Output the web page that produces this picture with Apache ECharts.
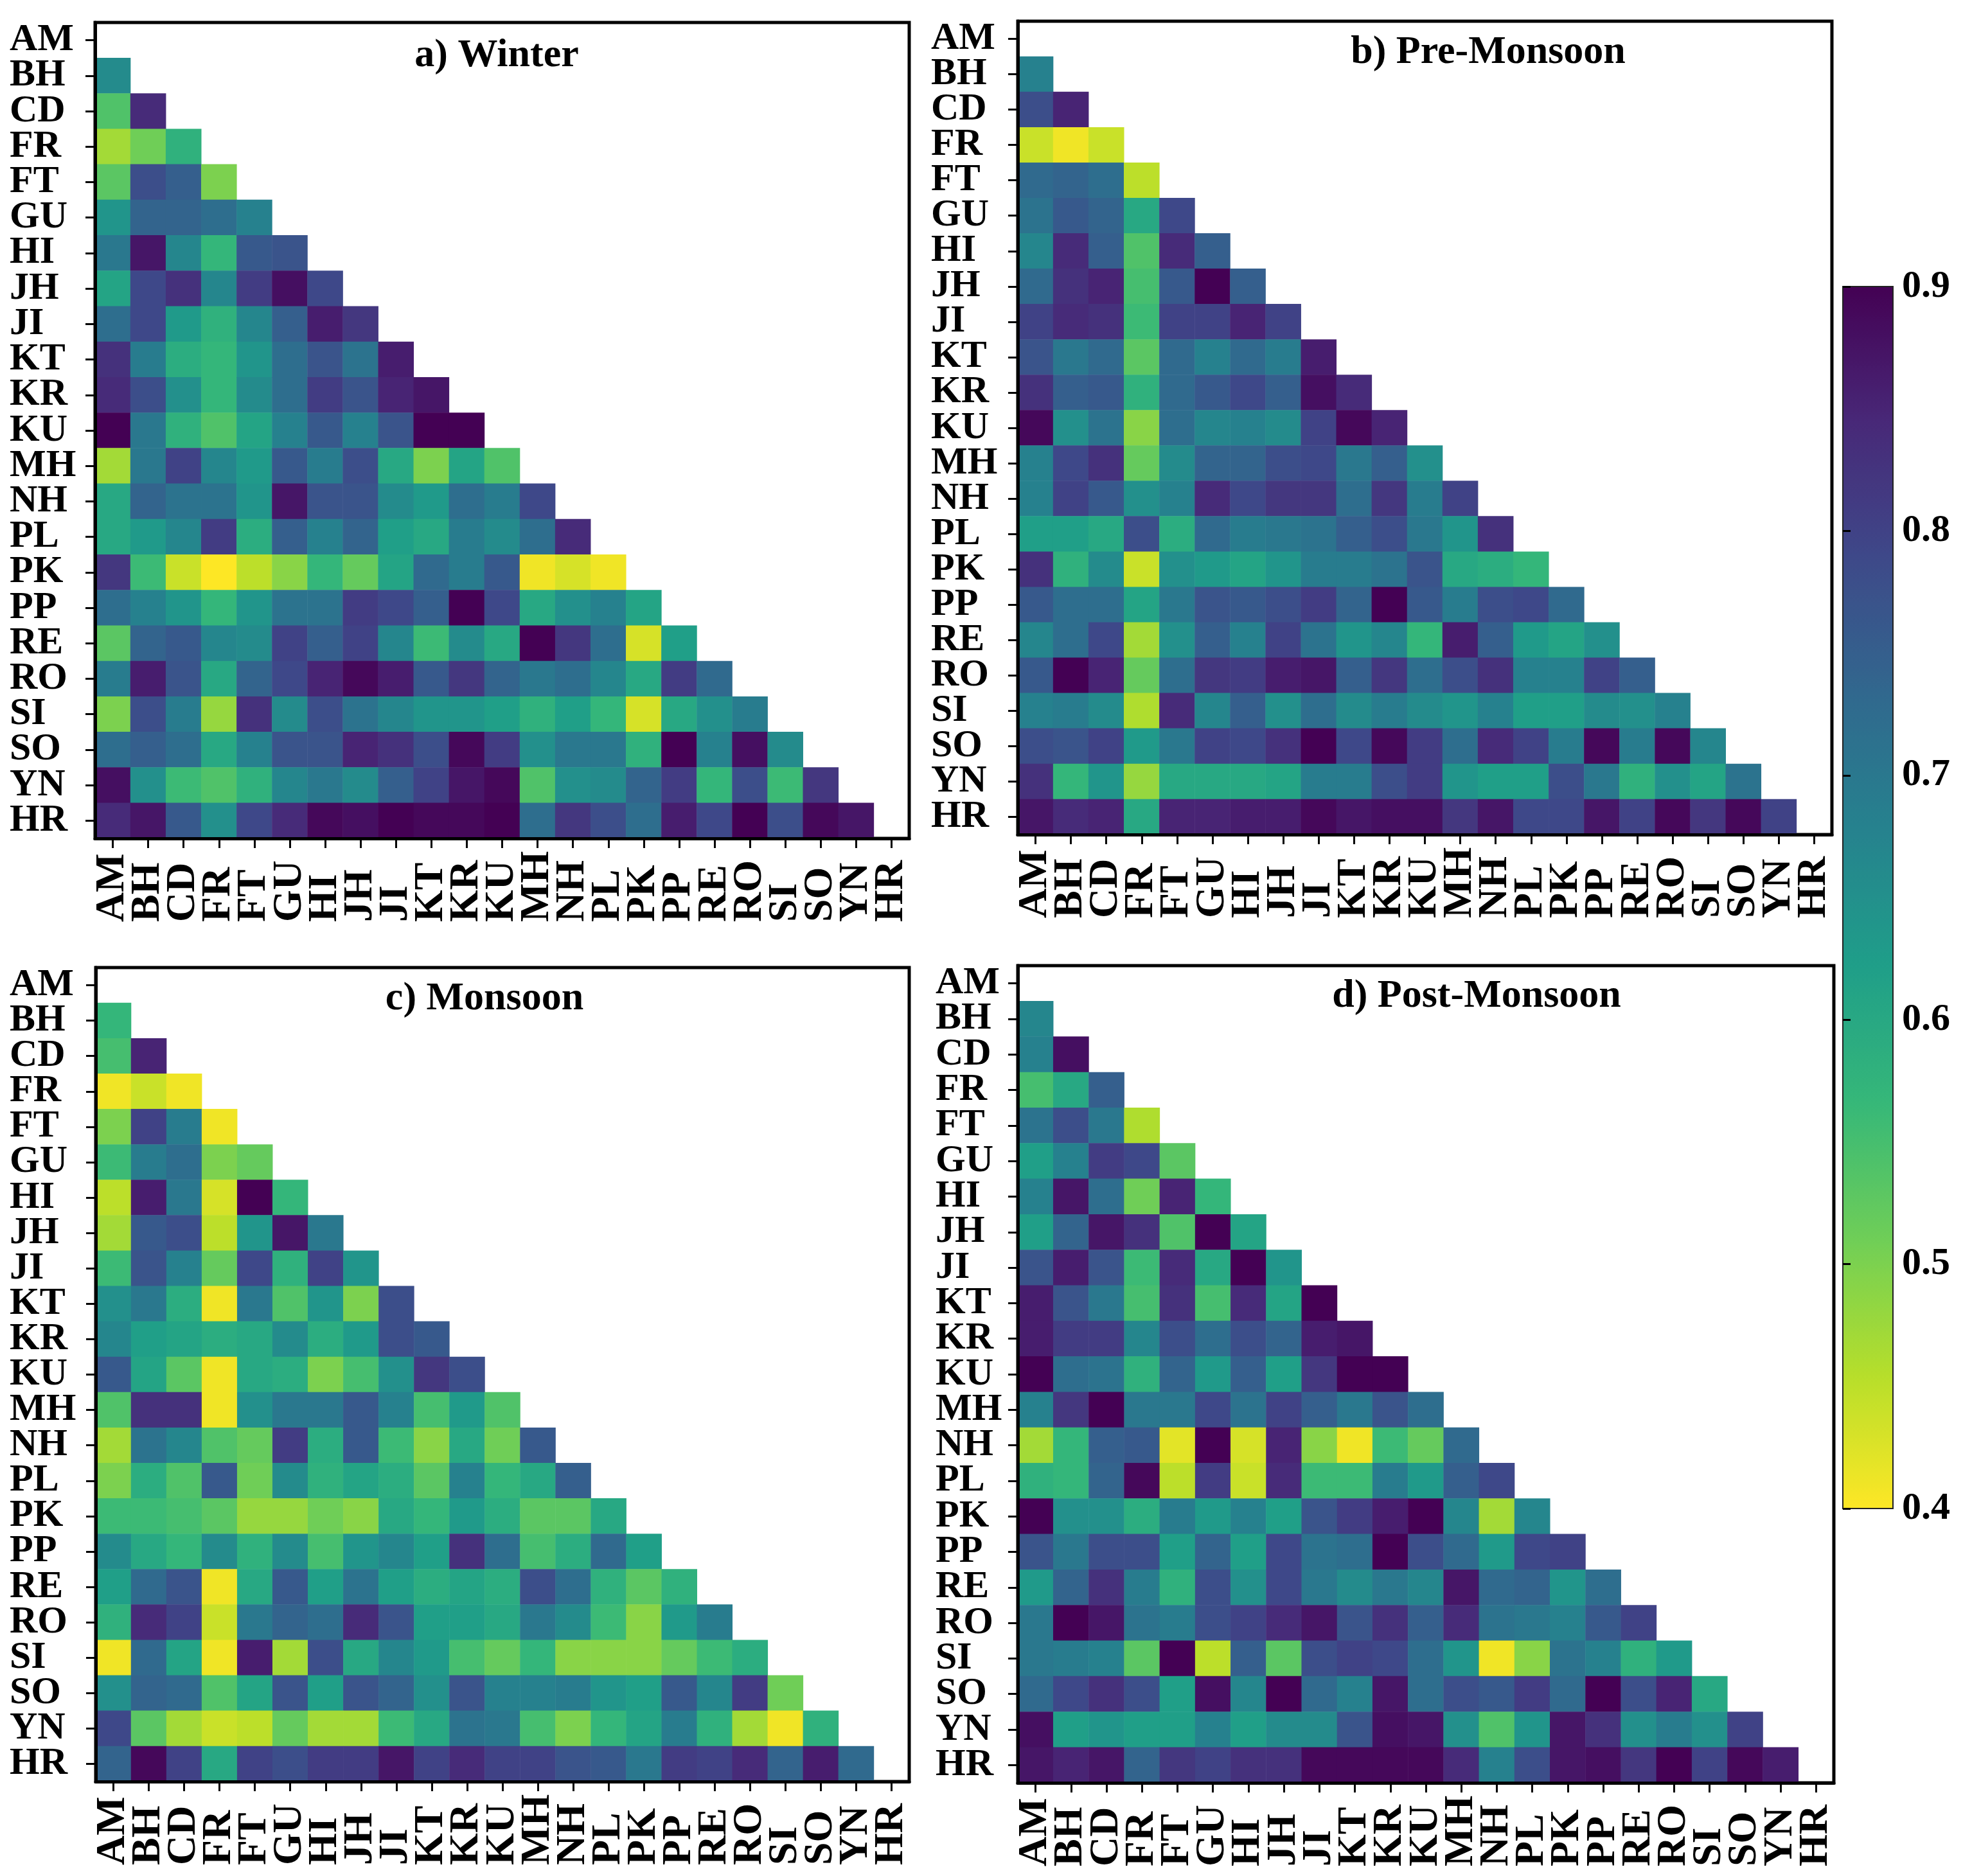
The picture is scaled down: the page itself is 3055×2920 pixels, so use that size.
<!DOCTYPE html>
<html>
<head>
<meta charset="utf-8">
<style>html,body{margin:0;padding:0;background:#fff}#chart{width:3055px;height:2920px}</style>
<script src="https://cdn.jsdelivr.net/npm/echarts@6/dist/echarts.min.js"></script>
</head>
<body>
<div id="chart"></div>
<script>
const stations = ['AM','BH','CD','FR','FT','GU','HI','JH','JI','KT','KR','KU','MH','NH','PL','PK','PP','RE','RO','SI','SO','YN','HR'];
const panelTitles = ['a) Winter','b) Pre-Monsoon','c) Monsoon','d) Post-Monsoon'];
const colorbarTicks = [0.4,0.5,0.6,0.7,0.8,0.9];
const viridisReversed = ['#fde725','#b5de2b','#6ece58','#35b779','#1f9e89','#26828e','#31688e','#3e4989','#482878','#440154'];

const winter = [
[.66],
[.54,.84],
[.47,.51,.58],
[.53,.78,.75,.50],
[.64,.74,.74,.72,.68],
[.70,.87,.67,.57,.76,.77],
[.61,.79,.83,.67,.81,.88,.79],
[.72,.79,.63,.58,.67,.75,.86,.82],
[.83,.69,.59,.57,.64,.72,.77,.71,.86],
[.84,.78,.65,.57,.66,.72,.81,.77,.85,.87],
[.90,.70,.58,.54,.61,.68,.76,.68,.77,.90,.90],
[.47,.70,.80,.67,.63,.76,.69,.78,.60,.50,.61,.54],
[.60,.74,.71,.71,.64,.87,.77,.77,.66,.63,.72,.69,.79],
[.60,.63,.67,.81,.59,.75,.68,.74,.62,.60,.69,.66,.72,.84],
[.82,.56,.44,.40,.45,.49,.57,.52,.61,.73,.69,.76,.41,.43,.41],
[.72,.68,.64,.57,.64,.71,.71,.81,.79,.75,.90,.79,.60,.65,.68,.61],
[.53,.74,.76,.67,.66,.80,.75,.80,.67,.56,.66,.60,.90,.82,.72,.43,.62],
[.69,.86,.77,.60,.74,.79,.85,.89,.86,.76,.82,.74,.70,.72,.67,.60,.81,.73],
[.50,.78,.69,.48,.83,.66,.78,.71,.67,.64,.64,.62,.58,.62,.57,.43,.60,.65,.69],
[.72,.75,.72,.60,.68,.77,.77,.85,.83,.78,.89,.81,.65,.70,.70,.58,.90,.68,.88,.66],
[.88,.65,.56,.54,.58,.67,.70,.66,.75,.80,.87,.89,.54,.65,.66,.74,.81,.57,.78,.56,.82],
[.84,.87,.76,.65,.79,.84,.89,.88,.90,.89,.89,.90,.72,.82,.78,.72,.86,.79,.90,.78,.89,.87]
];
const preMonsoon = [
[.68],
[.78,.85],
[.44,.41,.44],
[.73,.74,.72,.45],
[.71,.76,.74,.60,.79],
[.67,.84,.75,.54,.84,.75],
[.73,.83,.85,.55,.76,.90,.75],
[.80,.84,.83,.56,.80,.80,.85,.80],
[.77,.70,.73,.53,.73,.68,.73,.69,.86],
[.83,.75,.76,.58,.73,.76,.79,.75,.88,.84],
[.89,.65,.71,.49,.72,.67,.68,.66,.80,.89,.85],
[.68,.79,.83,.52,.66,.74,.74,.78,.79,.70,.75,.65],
[.68,.80,.76,.65,.68,.84,.79,.82,.82,.72,.82,.69,.80],
[.62,.62,.60,.78,.59,.73,.69,.70,.71,.75,.78,.70,.64,.83],
[.83,.58,.66,.44,.65,.63,.61,.64,.69,.69,.71,.77,.60,.59,.57],
[.76,.72,.72,.61,.70,.77,.76,.78,.81,.74,.90,.76,.69,.78,.79,.73],
[.67,.72,.79,.47,.65,.75,.68,.80,.71,.64,.67,.57,.86,.75,.63,.61,.65],
[.76,.90,.85,.52,.72,.82,.81,.86,.87,.75,.82,.72,.78,.83,.68,.68,.80,.75],
[.68,.69,.66,.46,.84,.67,.75,.65,.72,.66,.69,.66,.64,.68,.62,.62,.66,.65,.68],
[.78,.77,.80,.63,.70,.80,.79,.83,.90,.79,.89,.81,.72,.84,.80,.69,.89,.69,.89,.67],
[.83,.57,.64,.48,.60,.60,.60,.61,.69,.69,.78,.81,.64,.62,.62,.78,.70,.58,.65,.61,.71],
[.87,.84,.85,.60,.85,.85,.86,.86,.89,.87,.88,.88,.82,.87,.79,.79,.87,.80,.89,.82,.89,.80]
];
const monsoon = [
[.57],
[.55,.85],
[.41,.44,.41],
[.50,.80,.69,.41],
[.56,.69,.72,.50,.52],
[.45,.86,.70,.43,.90,.57],
[.47,.76,.78,.45,.64,.87,.70],
[.56,.77,.68,.52,.79,.58,.80,.64],
[.65,.70,.59,.41,.70,.54,.64,.50,.78],
[.67,.62,.61,.59,.60,.66,.59,.63,.78,.76],
[.76,.61,.53,.41,.60,.59,.50,.55,.65,.82,.78],
[.54,.83,.83,.41,.65,.70,.70,.76,.68,.55,.63,.54],
[.47,.71,.67,.54,.52,.81,.59,.76,.56,.49,.60,.51,.76],
[.50,.59,.54,.76,.51,.66,.58,.61,.59,.53,.68,.57,.60,.75],
[.56,.56,.55,.53,.48,.48,.51,.49,.60,.57,.63,.59,.53,.53,.60],
[.66,.60,.57,.66,.58,.66,.55,.64,.67,.62,.83,.72,.55,.59,.73,.62],
[.62,.73,.77,.41,.60,.76,.62,.71,.62,.59,.61,.59,.78,.72,.58,.53,.58],
[.58,.84,.80,.44,.70,.74,.72,.84,.77,.62,.62,.60,.70,.66,.56,.49,.63,.69],
[.41,.73,.61,.41,.86,.47,.78,.60,.67,.63,.55,.52,.57,.49,.49,.49,.52,.56,.59],
[.65,.74,.73,.54,.61,.77,.62,.77,.74,.65,.77,.68,.68,.69,.64,.62,.76,.67,.81,.51],
[.79,.53,.47,.44,.45,.52,.47,.47,.56,.60,.71,.70,.55,.50,.57,.61,.69,.58,.47,.41,.58],
[.74,.89,.80,.60,.80,.78,.81,.81,.87,.80,.84,.80,.80,.77,.76,.70,.81,.80,.84,.74,.86,.73]
];
const postMonsoon = [
[.67],
[.68,.88],
[.55,.60,.75],
[.71,.78,.70,.46],
[.62,.68,.81,.79,.53],
[.68,.87,.72,.51,.85,.57],
[.62,.74,.87,.83,.54,.90,.61],
[.77,.86,.77,.56,.84,.60,.90,.64],
[.86,.77,.70,.55,.83,.55,.84,.61,.90],
[.86,.81,.81,.67,.78,.72,.78,.74,.86,.87],
[.90,.72,.71,.58,.74,.63,.75,.62,.82,.90,.90],
[.68,.82,.90,.70,.70,.79,.71,.80,.75,.70,.77,.72],
[.47,.57,.75,.76,.42,.90,.43,.85,.49,.41,.56,.52,.73],
[.58,.57,.74,.89,.45,.81,.44,.84,.56,.56,.69,.63,.75,.79],
[.90,.65,.65,.59,.69,.63,.68,.62,.77,.81,.86,.90,.67,.47,.67],
[.77,.70,.78,.78,.62,.74,.62,.79,.71,.72,.90,.78,.73,.63,.79,.80],
[.63,.74,.83,.69,.58,.78,.65,.79,.70,.66,.70,.67,.87,.73,.74,.64,.72],
[.70,.90,.87,.71,.69,.78,.80,.84,.87,.77,.83,.75,.84,.71,.70,.68,.76,.80],
[.70,.69,.68,.53,.90,.45,.75,.53,.78,.80,.79,.72,.64,.41,.49,.71,.68,.58,.63],
[.73,.79,.83,.78,.62,.88,.67,.90,.73,.68,.87,.72,.78,.76,.81,.73,.90,.78,.85,.60],
[.88,.62,.64,.62,.62,.68,.62,.66,.66,.77,.88,.87,.65,.54,.64,.87,.83,.65,.69,.65,.80],
[.87,.85,.87,.74,.82,.80,.83,.83,.89,.89,.89,.89,.84,.68,.78,.87,.88,.82,.90,.80,.89,.86]
];
const panelValues = [winter, preMonsoon, monsoon, postMonsoon];

// layout of the four panels, title centres, y-label left edges and label padding (px)
const boxes = [
  {l:148,r:1415,t:35,b:1305,tx:768,ty:82,lx:15,pad:[0,0,8,0]},
  {l:1584,r:2851,t:33,b:1299,tx:2311,ty:77,lx:1449,pad:[0,0,0,0]},
  {l:149,r:1415,t:1506,b:2773,tx:749,ty:1550,lx:15,pad:[4,0,0,0]},
  {l:1584,r:2854,t:1503,b:2775,tx:2293,ty:1546,lx:1456,pad:[6,0,0,0]}
];
const W = 3055, H = 2920;
const FONT = '"Liberation Serif"';

function toCells(rows){
  const out = [];
  rows.forEach((row, r) => row.forEach((v, c) => out.push([c, r + 1, v])));
  return out;
}

const grid = [], xAxis = [], yAxis = [], series = [], title = [];
boxes.forEach((b, i) => {
  grid.push({show:true,left:b.l,top:b.t,width:b.r-b.l,height:b.b-b.t,backgroundColor:'#fff',borderColor:'#000',borderWidth:5});
  xAxis.push({
    type:'category',gridIndex:i,data:stations,position:'bottom',z:5,
    axisLine:{show:true,lineStyle:{color:'#000',width:5}},
    axisTick:{show:true,alignWithLabel:true,length:15,lineStyle:{color:'#000',width:3}},
    axisLabel:{show:true,interval:0,rotate:90,align:'left',verticalAlign:'middle',margin:130,color:'#000',
      fontFamily:FONT,fontWeight:'bold',fontSize:64},
    splitLine:{show:false}
  });
  yAxis.push({
    type:'category',gridIndex:i,data:stations,inverse:true,position:'left',z:5,
    axisLine:{show:true,lineStyle:{color:'#000',width:5}},
    axisTick:{show:true,alignWithLabel:true,length:15,lineStyle:{color:'#000',width:3}},
    axisLabel:{show:true,interval:0,align:'left',margin:b.l-b.lx,color:'#000',padding:b.pad,
      fontFamily:FONT,fontWeight:'bold',fontSize:60},
    splitLine:{show:false}
  });
  series.push({type:'heatmap',xAxisIndex:i,yAxisIndex:i,data:toCells(panelValues[i]),
    itemStyle:{borderWidth:0},emphasis:{disabled:true},progressive:0,animation:false});
  title.push({text:panelTitles[i],left:b.tx,top:b.ty,textAlign:'center',textVerticalAlign:'middle',
    textStyle:{fontFamily:FONT,fontWeight:'bold',fontSize:62,color:'#000'}});
});

// colour bar axis
const cb = {l:2868,r:2946,t:446,b:2348};
grid.push({show:true,left:cb.l,top:cb.t,width:cb.r-cb.l,height:cb.b-cb.t,backgroundColor:'transparent',borderColor:'#222',borderWidth:2,z:10});
xAxis.push({type:'value',gridIndex:4,min:0,max:1,show:false});
yAxis.push({type:'value',gridIndex:4,min:colorbarTicks[0],max:colorbarTicks[5],interval:0.1,position:'right',z:11,
  axisLine:{show:false},
  axisTick:{show:true,inside:false,length:12,lineStyle:{color:'#000',width:3}},
  splitLine:{show:false},
  axisLabel:{show:true,margin:14,color:'#000',fontFamily:FONT,fontWeight:'bold',fontSize:60,
    formatter:v=>(+v).toFixed(1)}
});

const chart = echarts.init(document.getElementById('chart'),null,{renderer:'canvas',width:W,height:H});
chart.setOption({
  animation:false,
  backgroundColor:'#fff',
  title,grid,xAxis,yAxis,series,
  visualMap:{
    type:'continuous',min:colorbarTicks[0],max:colorbarTicks[5],seriesIndex:[0,1,2,3],dimension:2,
    calculable:false,orient:'vertical',left:cb.l,top:cb.t,itemWidth:cb.r-cb.l,itemHeight:cb.b-cb.t,
    padding:0,text:null,showLabel:false,
    inRange:{color:viridisReversed}
  }
});
</script>
</body>
</html>
